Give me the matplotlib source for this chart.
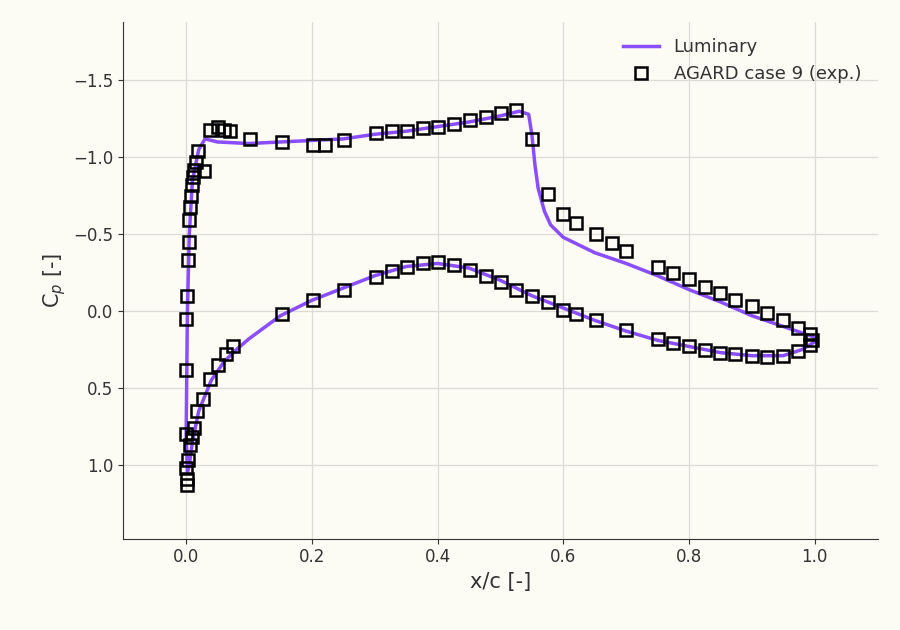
import matplotlib.pyplot as plt

# Luminary solution, upper and lower surface
x_up = [0, 0.002, 0.005, 0.01, 0.02, 0.03, 0.05, 0.1, 0.15, 0.2, 0.25, 0.3, 0.35, 0.4, 0.45, 0.5,
        0.53, 0.545, 0.55, 0.555, 0.56, 0.57, 0.58, 0.6, 0.65, 0.7, 0.75, 0.8, 0.85, 0.9, 0.95, 1.0]
cp_up = [0.8, 0.0, -0.5, -0.85, -1.05, -1.12, -1.10, -1.09, -1.10, -1.11, -1.12, -1.15, -1.17, -1.20, -1.23, -1.27,
         -1.30, -1.28, -1.15, -0.95, -0.80, -0.65, -0.56, -0.48, -0.38, -0.31, -0.23, -0.14, -0.06, 0.03, 0.10, 0.17]
x_lo = [0, 0.002, 0.005, 0.01, 0.02, 0.04, 0.06, 0.08, 0.1, 0.15, 0.2, 0.25, 0.3, 0.35, 0.4, 0.45,
        0.5, 0.55, 0.6, 0.65, 0.7, 0.75, 0.8, 0.85, 0.9, 0.95, 0.98, 1.0]
cp_lo = [0.8, 1.05, 1.0, 0.85, 0.65, 0.45, 0.33, 0.25, 0.18, 0.03, -0.07, -0.15, -0.23, -0.29, -0.31, -0.28,
         -0.20, -0.10, -0.02, 0.06, 0.13, 0.19, 0.23, 0.27, 0.29, 0.29, 0.25, 0.2]

# AGARD case 9 experiment
x_exp = [0.0, 0.0, 0.002, 0.003, 0.005, 0.005, 0.006, 0.008, 0.010, 0.011, 0.013, 0.016, 0.029, 0.019,
         0.038, 0.051, 0.060, 0.070, 0.102, 0.152, 0.202, 0.221, 0.251, 0.302, 0.327, 0.351, 0.377,
         0.401, 0.426, 0.451, 0.477, 0.501, 0.525, 0.550, 0.575, 0.599, 0.620, 0.652, 0.677, 0.700,
         0.750, 0.774, 0.800, 0.825, 0.849, 0.874, 0.900, 0.924, 0.949, 0.974, 0.992,
         0.0, 0.0, 0.002, 0.002, 0.003, 0.006, 0.010, 0.017, 0.027, 0.038, 0.051, 0.064, 0.075,
         0.153, 0.202, 0.251, 0.302, 0.327, 0.351, 0.377, 0.401, 0.426, 0.451, 0.477, 0.501, 0.525,
         0.550, 0.575, 0.599, 0.620, 0.652, 0.700, 0.750, 0.774, 0.800, 0.825, 0.849, 0.874, 0.900,
         0.924, 0.949, 0.974, 0.992, 0.995]
cp_exp = [0.38, 0.05, -0.10, -0.33, -0.45, -0.59, -0.68, -0.75, -0.82, -0.87, -0.92, -0.97, -0.91, -1.04,
          -1.18, -1.20, -1.18, -1.17, -1.12, -1.10, -1.08, -1.08, -1.11, -1.16, -1.17, -1.17, -1.19,
          -1.20, -1.22, -1.24, -1.26, -1.29, -1.31, -1.12, -0.76, -0.63, -0.57, -0.50, -0.44, -0.39,
          -0.29, -0.25, -0.21, -0.16, -0.12, -0.07, -0.03, 0.01, 0.06, 0.11, 0.15,
          0.80, 1.02, 1.09, 1.13, 0.97, 0.87, 0.82, 0.76, 0.65, 0.57, 0.44, 0.35, 0.28,
          0.23, 0.02, -0.07, -0.14, -0.22, -0.26, -0.29, -0.31, -0.32, -0.30, -0.27, -0.23, -0.19,
          -0.14, -0.10, -0.06, -0.01, 0.02, 0.06, 0.12, 0.18, 0.21, 0.23, 0.25, 0.27, 0.28,
          0.29, 0.30, 0.29, 0.26, 0.22, 0.19][:0] or None

cp_exp = [0.38, 0.05, -0.10, -0.33, -0.45, -0.59, -0.68, -0.75, -0.82, -0.87, -0.92, -0.97, -0.91, -1.04,
          -1.18, -1.20, -1.18, -1.17, -1.12, -1.10, -1.08, -1.08, -1.11, -1.16, -1.17, -1.17, -1.19,
          -1.20, -1.22, -1.24, -1.26, -1.29, -1.31, -1.12, -0.76, -0.63, -0.57, -0.50, -0.44, -0.39,
          -0.29, -0.25, -0.21, -0.16, -0.12, -0.07, -0.03, 0.01, 0.06, 0.11, 0.15,
          0.80, 1.02, 1.09, 1.13, 0.97, 0.87, 0.82, 0.76, 0.65, 0.57, 0.44, 0.35, 0.28, 0.23,
          0.02, -0.07, -0.14, -0.22, -0.26, -0.29, -0.31, -0.32, -0.30, -0.27, -0.23, -0.19, -0.14,
          -0.10, -0.06, -0.01, 0.02, 0.06, 0.12, 0.18, 0.21, 0.23, 0.25, 0.27, 0.28,
          0.29, 0.30, 0.29, 0.26, 0.22, 0.19]
x_exp = x_exp[:51] + [0.0, 0.0, 0.002, 0.002, 0.003, 0.006, 0.010, 0.013, 0.017, 0.027, 0.038, 0.051, 0.064, 0.075,
                      0.153, 0.202, 0.251, 0.302, 0.327, 0.351, 0.377, 0.401, 0.426, 0.451, 0.477, 0.501, 0.525,
                      0.550, 0.575, 0.599, 0.620, 0.652, 0.700, 0.750, 0.774, 0.800, 0.825, 0.849, 0.874,
                      0.900, 0.924, 0.949, 0.974, 0.992, 0.995]
n = min(len(x_exp), len(cp_exp))
x_exp, cp_exp = x_exp[:n], cp_exp[:n]

bg = '#fcfbf4'
fig, ax = plt.subplots(figsize=(9, 6.3), dpi=100)
fig.patch.set_facecolor(bg)
ax.set_facecolor(bg)

x_line = x_up[::-1] + x_lo
cp_line = cp_up[::-1] + cp_lo
ax.plot(x_line, cp_line, color='#8a4dff', lw=2.5, label='Luminary', zorder=2)
ax.plot(x_exp, cp_exp, 's', mfc='none', mec='black', mew=1.8, ms=8, label='AGARD case 9 (exp.)', zorder=3)

ax.set_xlim(-0.1, 1.1)
ax.set_ylim(1.48, -1.88)
ax.set_xticks([0.0, 0.2, 0.4, 0.6, 0.8, 1.0])
ax.set_yticks([1.0, 0.5, 0.0, -0.5, -1.0, -1.5])
ax.grid(True, color='#dcdcd6', lw=0.9)
ax.set_axisbelow(True)
for s in ['top', 'right']:
    ax.spines[s].set_visible(False)
ax.spines['left'].set_color('#333333')
ax.spines['bottom'].set_color('#333333')
ax.tick_params(labelsize=12, colors='#333333')
ax.set_xlabel('x/c [-]', fontsize=15, color='#333333')
ax.set_ylabel('C$_p$ [-]', fontsize=15, color='#333333')
leg = ax.legend(frameon=False, fontsize=13, loc='upper right')
for t in leg.get_texts():
    t.set_color('#333333')
fig.subplots_adjust(left=0.137, right=0.975, top=0.965, bottom=0.145)
fig.savefig('out.png', facecolor=bg)
